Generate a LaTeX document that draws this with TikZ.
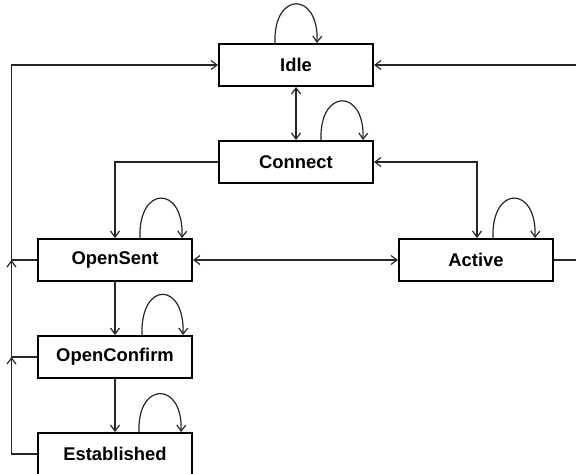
\documentclass[tikz,border=0pt]{standalone}
\usepackage{fontspec}
\setmainfont{Liberation Sans}
\usetikzlibrary{arrows.meta}
\begin{document}
\begin{tikzpicture}[x=1pt,y=-1pt,
  state/.style={draw, line width=2pt, minimum width=154pt, minimum height=42pt,
    inner sep=0pt, font=\bfseries\fontsize{18.4}{22}\selectfont},
  link/.style={line width=1.2pt, draw=black!85},
  tip/.style={-{Straight Barb[length=6pt,width=9pt,line width=1.2pt]}},
  bitip/.style={{Straight Barb[length=6pt,width=9pt,line width=1.2pt]}-{Straight Barb[length=6pt,width=9pt,line width=1.2pt]}},
  selfloop/.style={link, tip}]
  \useasboundingbox (0,0) rectangle (576,474);
  \clip (0,0) rectangle (576,474);

  % states
  \node[state] (Idle)        at (296,65)  {Idle};
  \node[state] (Connect)     at (296,162) {Connect};
  \node[state] (OpenSent)    at (115,260) {OpenSent};
  \node[state] (Active)      at (476,260) {Active};
  \node[state] (OpenConfirm) at (115,357) {OpenConfirm};
  \node[state] (Established) at (115,454) {Established};

  % outer return rails
  \coordinate (xl) at (11.5,0);
  \coordinate (xr) at (590,0);

  % transitions between states
  \draw[link, bitip] (Idle.south) -- (Connect.north);
  \draw[link, tip] (Connect.west) -| (OpenSent.north);
  \draw[link, bitip] (Connect.east) -| ([xshift=1pt]Active.north);
  \draw[link, bitip] (OpenSent.east) -- (Active.west);
  \draw[link, tip] (OpenSent.south) -- (OpenConfirm.north);
  \draw[link, tip] (OpenConfirm.south) -- (Established.north);

  % fall back to Idle
  \draw[link, tip] (Established.west) -| (xl |- OpenConfirm.west);
  \draw[link, tip] (OpenConfirm.west) -| (xl |- OpenSent.west);
  \draw[link, tip] (OpenSent.west) -| (xl |- Idle.west) -- (Idle.west);
  \draw[link, tip] (Active.east) -| (xr |- Idle.east) -- (Idle.east);

  % self transitions
  \draw[selfloop] ([xshift=-21pt]Idle.north) .. controls +(-2,-52) and +(2,-52) .. ([xshift=21pt]Idle.north);
  \draw[selfloop] ([xshift=25pt]Connect.north) .. controls +(-2,-52) and +(2,-52) .. ([xshift=67pt]Connect.north);
  \draw[selfloop] ([xshift=25pt]OpenSent.north) .. controls +(-2,-53) and +(2,-53) .. ([xshift=67pt]OpenSent.north);
  \draw[selfloop] ([xshift=17pt]Active.north) .. controls +(-2,-53) and +(2,-53) .. ([xshift=59pt]Active.north);
  \draw[selfloop] ([xshift=27pt]OpenConfirm.north) .. controls +(-2,-54) and +(2,-54) .. ([xshift=68pt]OpenConfirm.north);
  \draw[selfloop] ([xshift=24pt]Established.north) .. controls +(-2,-51) and +(2,-51) .. ([xshift=66pt]Established.north);
\end{tikzpicture}
\end{document}
